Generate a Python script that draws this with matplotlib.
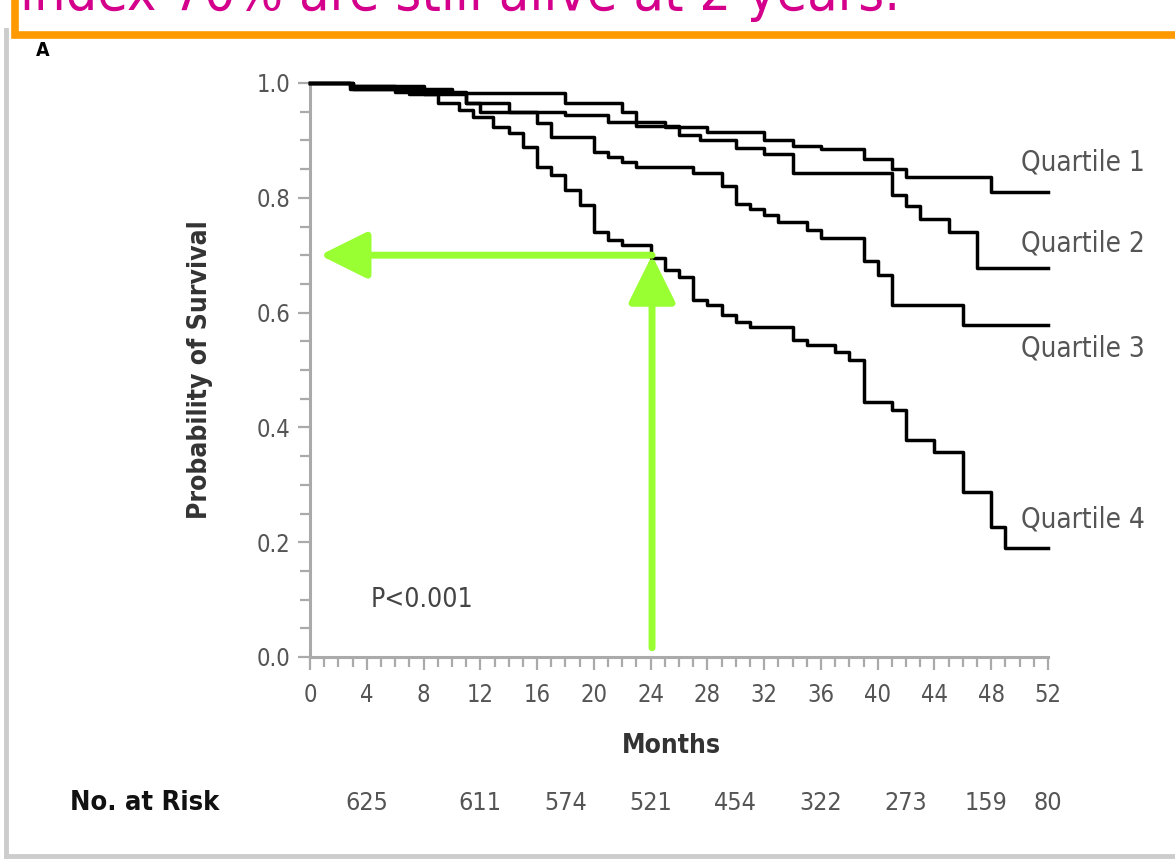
import matplotlib
matplotlib.use("Agg")
import matplotlib.pyplot as plt
from matplotlib.ticker import MultipleLocator
from matplotlib.lines import Line2D
from matplotlib.patches import Rectangle
from matplotlib.transforms import blended_transform_factory

plt.rcParams['font.family'] = ['DejaVu Sans']
plt.rcParams['font.stretch'] = 'condensed'

# Kaplan-Meier step data (month where each step starts, survival)
q1_t = [0, 2.8, 8, 10, 18, 22, 23, 25, 28, 32, 34, 36, 39, 41, 42, 48, 52]
q1_s = [1.0, 0.995, 0.99, 0.982, 0.965, 0.95, 0.932, 0.923, 0.915, 0.90, 0.89, 0.885, 0.868, 0.85, 0.837, 0.81, 0.81]

q2_t = [0, 3, 6, 11, 14, 18, 21, 23, 26, 27.5, 30, 32, 34, 41, 42, 43, 45, 47, 52]
q2_s = [1.0, 0.995, 0.985, 0.965, 0.95, 0.944, 0.932, 0.925, 0.91, 0.90, 0.887, 0.876, 0.843,
        0.805, 0.786, 0.763, 0.74, 0.678, 0.678]

q3_t = [0, 3, 8, 11, 12, 16, 17, 20, 21, 22, 23, 27, 29, 30, 31, 32, 33, 35, 36, 39, 40, 41, 46, 52]
q3_s = [1.0, 0.99, 0.98, 0.965, 0.95, 0.93, 0.906, 0.88, 0.871, 0.862, 0.854, 0.843, 0.82, 0.79,
        0.78, 0.77, 0.757, 0.744, 0.73, 0.69, 0.665, 0.613, 0.578, 0.578]

q4_t = [0, 2.8, 7, 9, 10.5, 11.5, 12.9, 14, 15, 16, 17, 18, 19, 20, 21, 22, 24, 25, 26, 27, 28,
        29, 30, 31, 34, 35, 37, 38, 39, 41, 42, 44, 46, 48, 49, 52]
q4_s = [1.0, 0.99, 0.98, 0.965, 0.953, 0.94, 0.923, 0.913, 0.889, 0.854, 0.84, 0.814, 0.787, 0.74,
        0.726, 0.718, 0.695, 0.674, 0.662, 0.622, 0.613, 0.596, 0.584, 0.575, 0.552, 0.544, 0.531,
        0.517, 0.444, 0.43, 0.378, 0.357, 0.287, 0.226, 0.19, 0.19]

curves = [(q1_t, q1_s), (q2_t, q2_s), (q3_t, q3_s), (q4_t, q4_s)]
labels = ["Quartile 1", "Quartile 2", "Quartile 3", "Quartile 4"]
label_y = [0.862, 0.721, 0.538, 0.239]

risk_x = [4, 12, 18, 24, 30, 36, 42, 47.6, 52]
risk_n = ["625", "611", "574", "521", "454", "322", "273", "159", "80"]

W, H = 1175, 868
fig = plt.figure(figsize=(W / 100, H / 100), dpi=100)
ax = fig.add_axes([310 / W, 1 - 657 / H, 738 / W, 574 / H])

for t, s in curves:
    ax.plot(t, s, drawstyle="steps-post", color="black", lw=2.5, clip_on=False, zorder=3)

ax.set_xlim(0, 52)
ax.set_ylim(0, 1.0)
for side in ["top", "right"]:
    ax.spines[side].set_visible(False)
for side in ["left", "bottom"]:
    ax.spines[side].set_color("#aaaaaa")
    ax.spines[side].set_linewidth(2.2)

ax.xaxis.set_major_locator(MultipleLocator(4))
ax.xaxis.set_minor_locator(MultipleLocator(1))
ax.yaxis.set_major_locator(MultipleLocator(0.2))
ax.yaxis.set_minor_locator(MultipleLocator(0.05))
ax.yaxis.set_major_formatter(plt.FuncFormatter(lambda v, p: f"{v:.1f}"))
ax.tick_params(which="both", direction="out", color="#aaaaaa", width=1.6, labelcolor="#555555", labelsize=17)
ax.tick_params(which="major", length=9, pad=5)
ax.tick_params(which="minor", length=7)
ax.tick_params(axis="x", pad=10)

ax.set_ylabel("Probability of Survival", fontsize=19, fontweight="bold", color="#333333")
ax.yaxis.set_label_coords(-0.131, 0.5)
ax.set_xlabel("Months", fontsize=19, fontweight="bold", color="#333333")
ax.xaxis.set_label_coords(0.49, -0.132)

for lab, ly in zip(labels, label_y):
    ax.text(50.1, ly, lab, fontsize=20, color="#555555", va="center", ha="left", clip_on=False)

ax.text(4.3, 0.1, "P<0.001", fontsize=19, color="#444444", va="center", ha="left")

tr = blended_transform_factory(ax.transData, ax.transAxes)
for rx, rn in zip(risk_x, risk_n):
    ax.text(rx, -0.254, rn, transform=tr, fontsize=18, color="#555555", ha="center", va="center")
fig.text(70 / W, 1 - 803 / H, "No. at Risk", fontsize=19.5, fontweight="bold", color="#111111",
         ha="left", va="center")

# green arrows
green = "#99ff33"
astyle = "-|>,head_length=1.45,head_width=0.72"
ax.annotate("", xy=(0.7, 0.70), xytext=(24.1, 0.70),
            arrowprops=dict(arrowstyle=astyle, mutation_scale=20, lw=5, color=green,
                            shrinkA=0, shrinkB=0), zorder=5)
ax.annotate("", xy=(24.1, 0.70), xytext=(24.1, 0.016),
            arrowprops=dict(arrowstyle=astyle, mutation_scale=20, lw=5, color=green,
                            shrinkA=0, shrinkB=0), zorder=5)

# frame and banner
fig.add_artist(Line2D([6 / W, 6 / W], [1 - 30 / H, 1 - 856 / H], color="#cccccc", lw=3.5,
                      transform=fig.transFigure))
fig.add_artist(Line2D([6 / W, 1.0], [1 - 856 / H, 1 - 856 / H], color="#cccccc", lw=3.5,
                      transform=fig.transFigure))
fig.add_artist(Rectangle((15 / W, 1 - 35 / H), 1.0, 0.2, transform=fig.transFigure,
                         facecolor="white", edgecolor="#ff9900", lw=5.5, clip_on=False, zorder=10))
fig.text(20 / W, 1 - 10 / H, "index 70% are still alive at 2 years.", fontsize=40, color="#d4008c",
         ha="left", va="baseline", zorder=11)
fig.text(36 / W, 1 - 50 / H, "A", fontsize=14, fontweight="bold", color="black", ha="left", va="center")

fig.savefig("out.png", dpi=100, facecolor="white")
